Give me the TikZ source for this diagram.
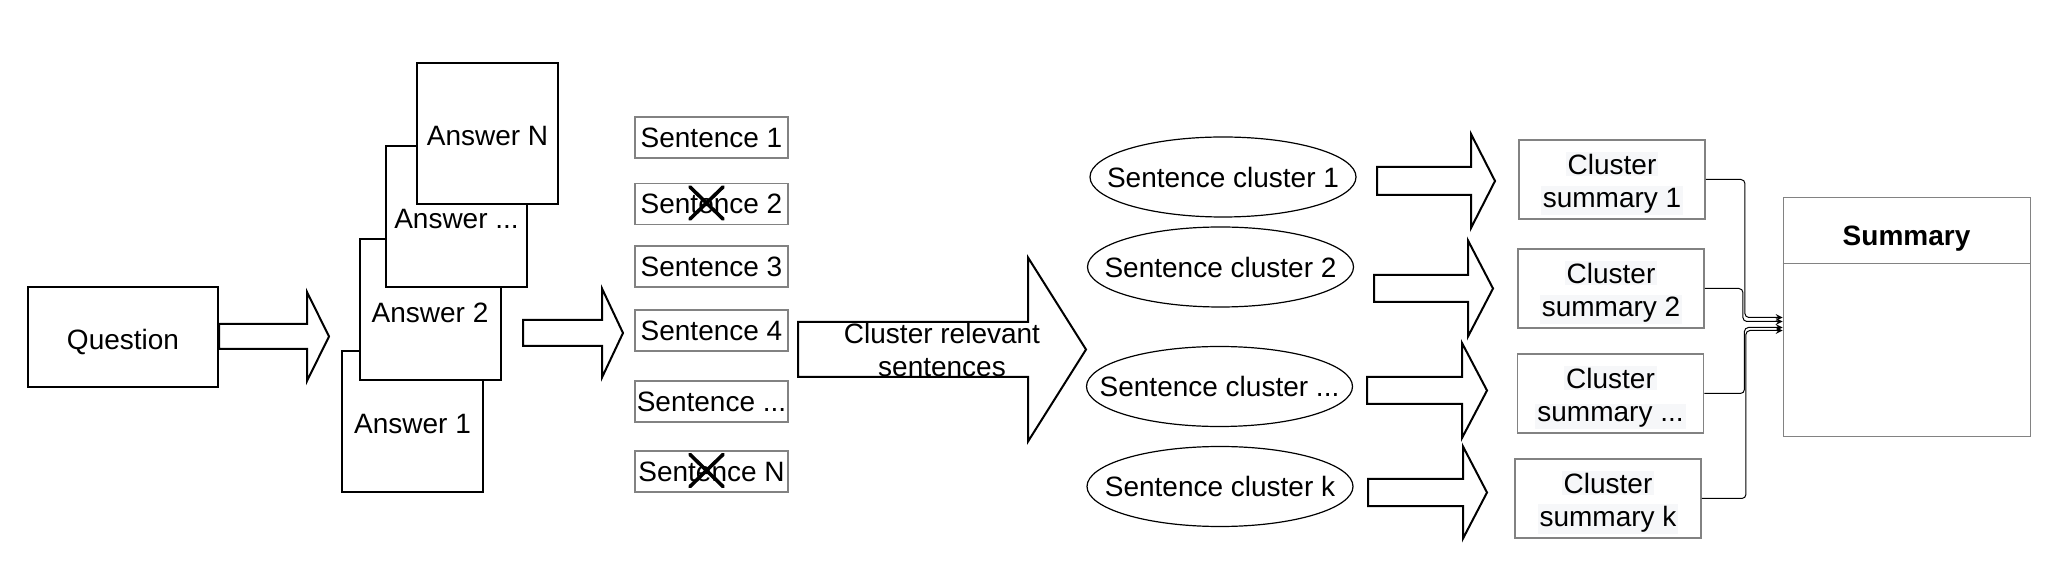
\documentclass[tikz,border=0pt]{standalone}
\usepackage{fontspec}
\setmainfont{Liberation Sans}
\usetikzlibrary{shapes.geometric}
\definecolor{boxgray}{RGB}{130,130,130}
\definecolor{textbg}{RGB}{246,247,249}
\newcommand{\ddd}{...}
\newcommand{\nowidth}[1]{\makebox[0pt]{#1}}
\newcommand{\hl}[1]{{\setlength{\fboxsep}{1pt}\colorbox{textbg}{#1}}}
\newcommand{\blockarr}[6]{%
  \draw[blockarrow] (#1,{#4-#5}) -- (#2,{#4-#5}) -- (#2,{#4-#6}) -- (#3,#4)
    -- (#2,{#4+#6}) -- (#2,{#4+#5}) -- (#1,{#4+#5}) -- cycle;}
\begin{document}
\begin{tikzpicture}[>=stealth, x=0.5pt, y=-0.5pt,
  font=\fontsize{14pt}{16.5pt}\selectfont,
  blackbox/.style={draw, line width=1pt, fill=white, inner sep=0pt, text height=12.2pt, text depth=0pt},
  answerbox/.style={blackbox, minimum width=70.5pt, minimum height=70.5pt},
  sentbox/.style={draw=boxgray, line width=0.75pt, minimum width=76.5pt, minimum height=20.5pt, inner sep=0pt},
  clusterbox/.style={ellipse, draw, line width=0.6pt, minimum width=133pt, minimum height=40pt, inner sep=0pt},
  sumbox/.style={draw=boxgray, line width=0.9pt, minimum width=93pt, minimum height=39.5pt, inner sep=0pt, align=center, text depth=0pt},
  blockarrow/.style={draw, line width=1pt},
  crossmark/.style={line width=1.8pt, line cap=round},
  link/.style={->, line width=0.5pt, rounded corners=2pt}]
\useasboundingbox (0,0) rectangle (2070,576);

\node[blackbox, minimum width=95pt, minimum height=50pt] (question) at (123,337) {Question};
\blockarr{219}{307}{329}{336.5}{12.5}{44.5}

\node[answerbox] (ans1) at (412.5,421.5) {Answer 1};
\node[answerbox] (ans2) at (430,310) {Answer 2};
\node[answerbox] (ans3) at (456.5,216.5) {Answer \ddd};
\node[answerbox] (ansN) at (487.5,133.5) {Answer N};
\blockarr{523}{602}{623}{333}{13}{44.5}

\foreach \i/\lab/\y in {1/1/137.5, 2/2/204, 3/3/266.5, 4/4/330.5, 5/\ddd/401.5, 6/N/471.5}
  \node[sentbox] (s\i) at (711.5,\y) {Sentence \lab};
\foreach \s in {s2,s6}
  \draw[crossmark] ([xshift=-2.5pt,yshift=0.5pt]\s.center) +(-16.5,-16) -- +(16.5,16) +(-16.5,16) -- +(16.5,-16);

\blockarr{798}{1028}{1086}{349.5}{27.5}{92}
\node[align=center] (relevant) at (942,350) {Cluster relevant\\sentences};

\foreach \i/\lab/\x/\y in {1/1/1223/177, 2/2/1220.5/267, 3/\ddd/1219.5/386.5, 4/k/1220/486.5}
  \node[clusterbox] (c\i) at (\x,\y) {\nowidth{Sentence cluster \lab}};

\foreach \a/\b/\c/\y/\s/\h in {1377/1471/1495/181/14/47, 1374/1468/1493/288.5/13.5/48,
    1367/1462/1487/390.5/13.5/47.5, 1368/1463/1487/492.5/13.5/46}
  \blockarr{\a}{\b}{\c}{\y}{\s}{\h};

\foreach \i/\lab/\x/\y in {1/1/1612/179.5, 2/2/1611/288.5, 3/\ddd/1610.5/393.5, 4/k/1608/498.5}
  \node[sumbox] (cs\i) at (\x,\y) {\hl{Cluster}\\\hl{summary \lab}};

\node[draw=boxgray, line width=0.5pt, minimum width=123.5pt, minimum height=119.5pt, inner sep=0pt] (summary) at (1906.5,317.5) {};
\draw[boxgray, line width=0.5pt] ([yshift=-33pt]summary.north west) -- ([yshift=-33pt]summary.north east);
\node[anchor=base, font=\fontsize{14pt}{16.5pt}\selectfont\bfseries] (sumtitle) at (1906.5,246) {Summary};

\foreach \i/\dx/\dy in {1/39/0pt, 2/38/-2pt, 3/40/-5pt, 4/44/-6.5pt}
  \draw[link] (cs\i.east) -- ++(\dx,0) |- ([yshift=\dy]summary.west);
\end{tikzpicture}
\end{document}
